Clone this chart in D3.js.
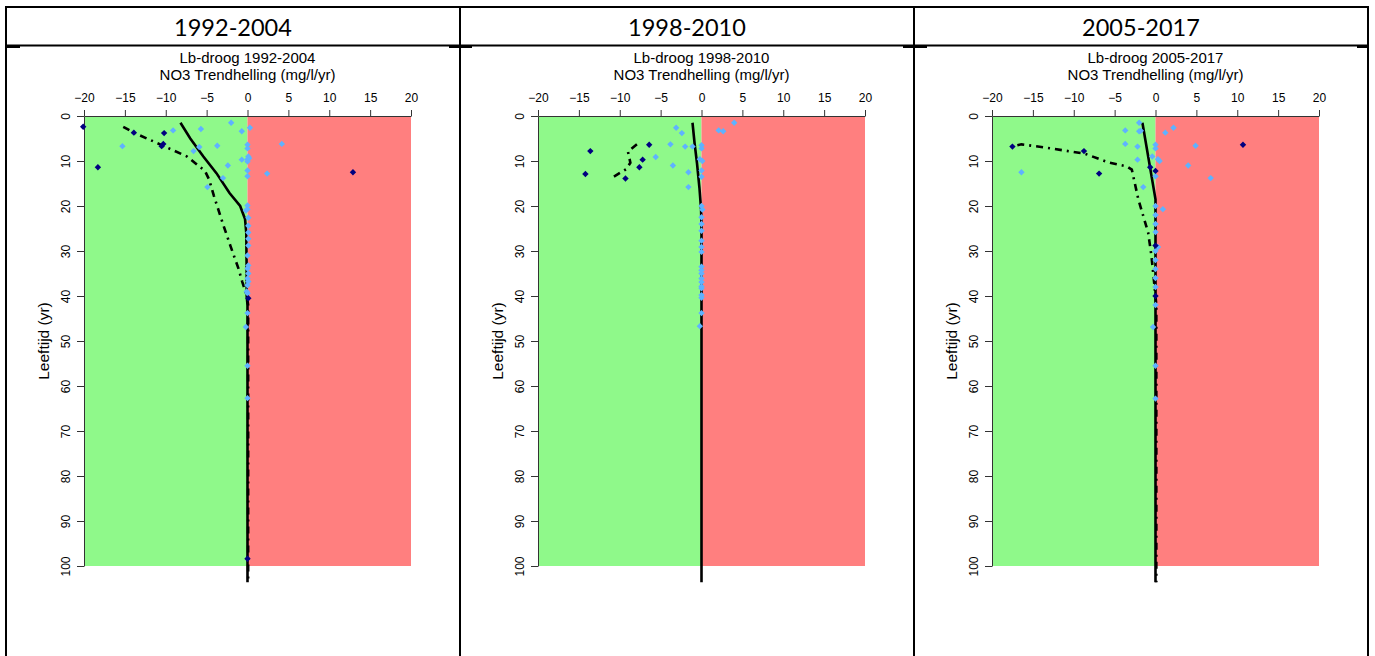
<!DOCTYPE html>
<html>
<head>
<meta charset="utf-8">
<script src="https://cdn.jsdelivr.net/npm/d3@7"></script>
<style>
  html, body { margin: 0; padding: 0; background: #fff; }
  svg { display: block; }
</style>
</head>
<body>
<svg id="chart" width="1375" height="656"></svg>
<script>
// ---------------- DATA ----------------
const periods = ["1992-2004", "1998-2010", "2005-2017"];
const chartTitles = ["Lb-droog 1992-2004", "Lb-droog 1998-2010", "Lb-droog 2005-2017"];
const subTitle = "NO3 Trendhelling (mg/l/yr)";
const yLabel = "Leeftijd (yr)";
const xTicks = [-20, -15, -10, -5, 0, 5, 10, 15, 20];
const yTicks = [0, 10, 20, 30, 40, 50, 60, 70, 80, 90, 100];

// [trend slope, age]
const dark1 = [[-20.1,2.4],[-18.3,11.4],[-13.9,3.7],[-10.2,3.8],[-10.3,6.2],[-10.5,6.7],[12.9,12.5],[0.1,40.5],[0,98.4]];
const light1 = [[-9.1,3.2],[-5.7,2.9],[-2.0,1.5],[-0.7,3.4],[0.3,2.6],[-15.3,6.7],[-5.9,6.9],[-6.6,7.8],[-3.7,6.6],
  [-0.7,9.7],[-2.4,11.0],[-3.0,13.8],[-4.9,15.8],[0,6.4],[0,7.2],[0.1,9.0],[0,9.6],[0.2,9.4],[0,10.1],[0,12.1],[0,13.4],
  [2.4,12.8],[4.2,6.2],[0,19.9],[0,20.7],[-0.2,21.0],[0.1,22.6],[0.1,24.4],[0.1,25.9],[0.1,27.3],[0.1,28.8],
  [0,31.0],[0.1,33.2],[0,33.9],[0.1,35.0],[0,36.1],[0.1,36.8],[0,37.6],[-0.1,39.0],[0,39.4],[0,43.8],[-0.2,46.9],[0,55.5],[0,62.7]];
const solid1 = [[-8.2,1.5],[-7.0,5.0],[-5.4,9.0],[-3.8,12.7],[-2.2,17.1],[-0.9,20.0],[-0.3,22.9],[-0.15,26],[-0.1,35],[-0.1,40],[0,42],[0,103.6]];
const dash1 = [[-15.2,2.4],[-13.9,3.7],[-10.7,6.3],[-7.4,9.0],[-5.2,12.2],[-4.7,14.1],[-4.1,17.8],[-3.0,24.0],[-2.1,28.8],
  [-1.75,30.6],[-1.1,33.9],[-0.65,36.8],[-0.1,39.8],[0.08,42],[0.08,103.6]];

const dark2 = [[-13.6,7.8],[-14.2,12.9],[-9.3,13.9],[-7.6,11.4],[-7.2,9.7],[-6.4,6.4]];
const light2 = [[4.0,1.5],[2.1,3.2],[2.65,3.4],[-3.1,2.6],[-2.4,3.8],[-3.8,6.3],[-2.0,6.8],[-1.1,6.8],[0,6.5],[0,7.2],
  [-0.2,9.6],[0.1,10.0],[-5.6,9.1],[-3.5,11.0],[-1.6,12.5],[0,12.1],[0,13.5],[-1.6,15.8],[0.1,20.8],[0,20.0],[0,22.5],
  [0,24.0],[0,25.5],[0,27.7],[0,29.1],[0,30.2],[0,33.5],[0,34.3],[0,35.0],[0,36.1],[0,36.9],[0,37.9],[0,38.3],[0,39.8],
  [0,40.4],[0,43.8],[-0.2,46.7]];
const solid2 = [[-1.1,1.5],[-0.85,6],[-0.55,10.5],[-0.25,16],[-0.05,20.8],[0,25],[0,103.6]];
const dash2 = [[-7.9,6.3],[-9.0,7.9],[-8.7,10.4],[-9.2,11.8],[-11.2,14.0]];

const dark3 = [[-17.5,6.8],[-8.75,7.8],[-6.9,12.8],[-0.65,11.4],[0,12.2],[0,28.8],[10.7,6.4],[0,40]];
const light3 = [[-16.4,12.5],[-3.7,3.2],[-3.7,6.2],[-2.0,1.5],[-2.0,3.4],[-1.8,3.3],[-2.2,6.8],[-2.2,9.7],[-1.5,15.8],
  [0,6.4],[0,7.2],[-0.4,9.0],[0.3,9.6],[0.5,10.0],[0,13.4],[1.2,3.7],[2.2,2.6],[4.9,6.6],[4.0,11.0],[6.75,13.8],
  [0.9,20.7],[0,20],[0,22],[0,24],[0,25.8],[0.3,29.1],[0,30],[0,32],[0,34],[0,36],[0,38],[0,42],[-0.3,46.9],[0,55.5],[0,62.8]];
const solid3 = [[-1.6,1.5],[-0.8,10],[0,18.5],[0,103.6]];
const dash3 = [[-16.9,6.5],[-16.4,6.3],[-13.5,7.0],[-8.6,8.4],[-5.8,10.3],[-3.5,11.2],[-2.9,11.9],[-2.1,18.5],
  [-0.9,25.9],[-0.5,31],[0,40],[0.1,42],[0.1,103.6]];

const panels = [
  {dark: dark1, light: light1, solid: solid1, dash: dash1},
  {dark: dark2, light: light2, solid: solid2, dash: dash2},
  {dark: dark3, light: light3, solid: solid3, dash: dash3}
];

// ---------------- LAYOUT / STYLE ----------------
const cellEdges = [6, 460, 914, 1368];
const headerTop = 7, headerBottom = 45.5;
const plotOffset = 78, plotW = 327;
const plotTop = 116, plotBottom = 566;
const greenCol = "#8ff98a", redCol = "#ff7f7f";
const darkCol = "#000080", lightCol = "#5fb2ff";
const chartFont = "'Liberation Sans', Arial, sans-serif";

const svg = d3.select("#chart");

// table
const tbl = svg.append("g").attr("stroke", "#000").attr("stroke-width", 2);
tbl.append("line").attr("x1", cellEdges[0] - 1).attr("x2", cellEdges[3] + 1).attr("y1", headerTop).attr("y2", headerTop);
tbl.append("line").attr("x1", cellEdges[0]).attr("x2", cellEdges[3]).attr("y1", headerBottom).attr("y2", headerBottom);
cellEdges.forEach(x => tbl.append("line").attr("x1", x).attr("x2", x).attr("y1", headerTop - 1).attr("y2", 656));
[[6, 20], [449, 472], [903, 927], [1357, 1368]].forEach(s =>
  tbl.append("line").attr("x1", s[0]).attr("x2", s[1]).attr("y1", headerBottom + 1.5).attr("y2", headerBottom + 1.5));

const symbolDiamond = r => `M0,${-r}L${r},0L0,${r}L${-r},0Z`;

panels.forEach((p, i) => {
  const cx0 = cellEdges[i], cx1 = cellEdges[i + 1];
  const left = cx0 + plotOffset, right = left + plotW;
  const x = d3.scaleLinear().domain([-20, 20]).range([left, right]);
  const y = d3.scaleLinear().domain([0, 100]).range([plotTop, plotBottom]);
  const g = svg.append("g");

  // header
  g.append("text").attr("x", (cx0 + cx1) / 2).attr("y", 36)
    .attr("text-anchor", "middle").attr("font-family", "Lato, 'Open Sans', sans-serif")
    .attr("font-size", 23.5).attr("fill", "#000").text(periods[i]);

  // titles
  const mid = x(0);
  g.append("text").attr("x", mid).attr("y", 63).attr("text-anchor", "middle")
    .attr("font-family", chartFont).attr("font-size", 15).text(chartTitles[i]);
  g.append("text").attr("x", mid).attr("y", 80).attr("text-anchor", "middle")
    .attr("font-family", chartFont).attr("font-size", 15).text(subTitle);

  // background regions
  g.append("rect").attr("x", x(-20)).attr("y", y(0)).attr("width", x(0) - x(-20)).attr("height", y(100) - y(0)).attr("fill", greenCol);
  g.append("rect").attr("x", x(0)).attr("y", y(0)).attr("width", x(20) - x(0)).attr("height", y(100) - y(0)).attr("fill", redCol);

  // axes
  const ax = g.append("g").attr("transform", `translate(0,${plotTop})`)
    .call(d3.axisTop(x).tickValues(xTicks).tickSize(6).tickSizeOuter(0).tickPadding(8.5).tickFormat(d3.format("d")));
  ax.selectAll("text").attr("font-family", chartFont).attr("font-size", 12).attr("fill", "#000");
  ax.selectAll("line,path").attr("stroke", "#333");

  const ay = g.append("g").attr("transform", `translate(${left},0)`)
    .call(d3.axisLeft(y).tickValues(yTicks).tickSize(7).tickSizeOuter(0).tickFormat(d3.format("d")));
  ay.selectAll("line,path").attr("stroke", "#333");
  ay.selectAll("text").attr("font-family", chartFont).attr("font-size", 12).attr("fill", "#000")
    .attr("x", null).attr("dy", null).attr("text-anchor", "middle")
    .attr("transform", "translate(-14,0) rotate(-90)");

  g.append("text").attr("transform", `translate(${cx0 + 43},${(plotTop + plotBottom) / 2}) rotate(-90)`)
    .attr("text-anchor", "middle").attr("font-family", chartFont).attr("font-size", 15.5).text(yLabel);

  // lines
  const line = d3.line().x(d => x(d[0])).y(d => y(d[1]));
  g.append("path").datum(p.solid).attr("d", line).attr("fill", "none").attr("stroke", "#000").attr("stroke-width", 2.6);
  g.append("path").datum(p.dash).attr("d", line).attr("fill", "none").attr("stroke", "#000").attr("stroke-width", 2.6)
    .attr("stroke-dasharray", "7,5,2,5");

  // points
  g.append("g").selectAll("path").data(p.light).join("path")
    .attr("d", symbolDiamond(3.2)).attr("transform", d => `translate(${x(d[0])},${y(d[1])})`).attr("fill", lightCol);
  g.append("g").selectAll("path").data(p.dark).join("path")
    .attr("d", symbolDiamond(3.2)).attr("transform", d => `translate(${x(d[0])},${y(d[1])})`).attr("fill", darkCol);
});
</script>
</body>
</html>
